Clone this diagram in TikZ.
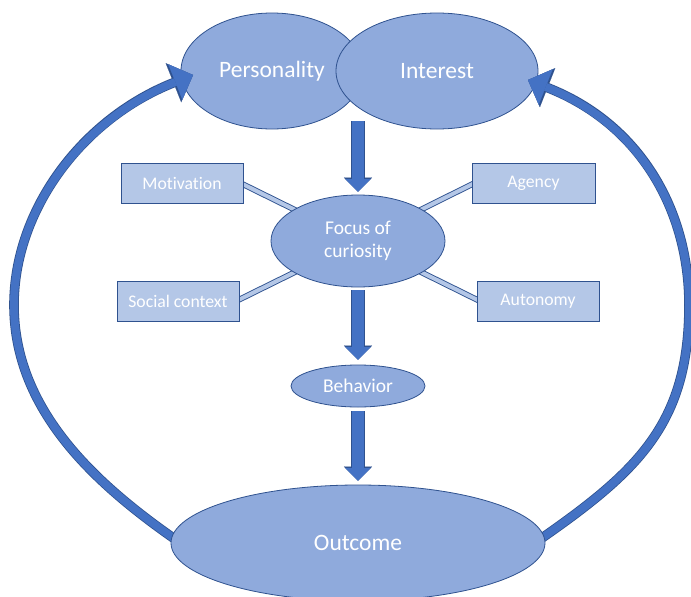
\documentclass[tikz,border=0pt]{standalone}
\usepackage{fontspec}
\setmainfont{Carlito}[Ligatures=NoCommon]
\usetikzlibrary{shapes.geometric,arrows.meta}
\definecolor{ellfill}{HTML}{8FAADC}
\definecolor{edge}{HTML}{2F528F}
\definecolor{boxfill}{HTML}{B4C7E7}
\definecolor{arrowblue}{HTML}{4472C4}
\pgfdeclarelayer{back}
\pgfdeclarelayer{mid}
\pgfsetlayers{back,mid,main}
\begin{document}
\begin{tikzpicture}[x=1pt,y=-1pt,
  ell/.style={ellipse, draw=edge, line width=0.8pt, fill=ellfill, text=white, inner sep=0pt},
  boxnode/.style={rectangle, draw=edge, line width=0.8pt, fill=boxfill, text=white,
    minimum width=122pt, minimum height=40pt, inner sep=0pt, font=\fontsize{17.7}{20}\selectfont},
  bigtext/.style={font=\fontsize{23.5}{28}\selectfont},
  midtext/.style={font=\fontsize{19.5}{23}\selectfont},
  link/.style={draw=edge, line width=0.9pt, double=boxfill, double distance=4pt},
  blockout/.style={draw=edge, line width=14pt, -{Triangle[length=14pt,width=28pt,line width=0.1pt]}},
  blockin/.style={draw=arrowblue, line width=12pt, -{Triangle[length=12.5pt,width=25pt,line width=0.1pt]}},
  loopout/.style={draw=edge, line width=9.6pt, -{Triangle[length=21pt,width=42pt,line width=0.1pt]}},
  loopin/.style={draw=arrowblue, line width=8pt, -{Triangle[length=19pt,width=38pt,line width=0.1pt]}}
]
\useasboundingbox (0,0) rectangle (691,597);
\begin{pgfonlayer}{back}
  \fill[white] (0,0) rectangle (691,597);
  \node[ell, bigtext, minimum width=182pt, minimum height=116pt] (pers) at (272,71) {Personality};
  \node[ell, bigtext, minimum width=202pt, minimum height=116pt] (inter) at (437,71) {Interest};
\end{pgfonlayer}

\node[ell, midtext, minimum width=174pt, minimum height=92pt, align=center] (focus) at (358,241) {Focus of\\curiosity};
\node[ell, midtext, minimum width=134pt, minimum height=42pt] (behav) at (358,386) {Behavior};
\node[ell, bigtext, minimum width=374pt, minimum height=116pt] (out) at (358,543) {Outcome};

\node[boxnode] (mot) at (182,183) {Motivation};
\node[boxnode, minimum width=123pt] (agen) at (533.5,183) {Agency};
\node[boxnode] (soc) at (178,301) {Social context};
\node[boxnode] (auto) at (538,301) {Autonomy};

\coordinate (a1s) at (358,121);
\coordinate (tipL) at (193,75);
\coordinate (tipR) at (528,80);

\begin{pgfonlayer}{mid}
  \draw[link] ([xshift=-3pt]mot.east) -- (focus.center);
  \draw[link] ([xshift=3pt]agen.west) -- (focus.center);
  \draw[link] ([xshift=-3pt]soc.east) -- (focus.center);
  \draw[link] ([xshift=3pt]auto.west) -- (focus.center);

  \draw[loopout] ([xshift=8pt,yshift=-6pt]out.178) .. controls (95,484) and (14,410) .. (14,305)
     .. controls (14,210) and (82,119) .. (tipL);
  \draw[loopin] ([xshift=8pt,yshift=-6pt]out.178) .. controls (95,484) and (14,410) .. (14,305)
     .. controls (14,210) and (82,119) .. (tipL);
  \draw[loopout] ([xshift=-8pt,yshift=-5.5pt]out.2) .. controls (637,472) and (689,425) .. (689,305)
     .. controls (689,210) and (640,124) .. (tipR);
  \draw[loopin] ([xshift=-8pt,yshift=-5.5pt]out.2) .. controls (637,472) and (689,425) .. (689,305)
     .. controls (689,210) and (640,124) .. (tipR);
\end{pgfonlayer}

\draw[blockout] (a1s) -- ([yshift=3pt]focus.north);
\draw[blockin] (a1s) -- ([yshift=3pt]focus.north);
\draw[blockout] ([yshift=-3pt]focus.south) -- ([yshift=5pt]behav.north);
\draw[blockin] ([yshift=-3pt]focus.south) -- ([yshift=5pt]behav.north);
\draw[blockout] ([yshift=-4pt]behav.south) -- ([yshift=4pt]out.north);
\draw[blockin] ([yshift=-4pt]behav.south) -- ([yshift=4pt]out.north);
\end{tikzpicture}
\end{document}
